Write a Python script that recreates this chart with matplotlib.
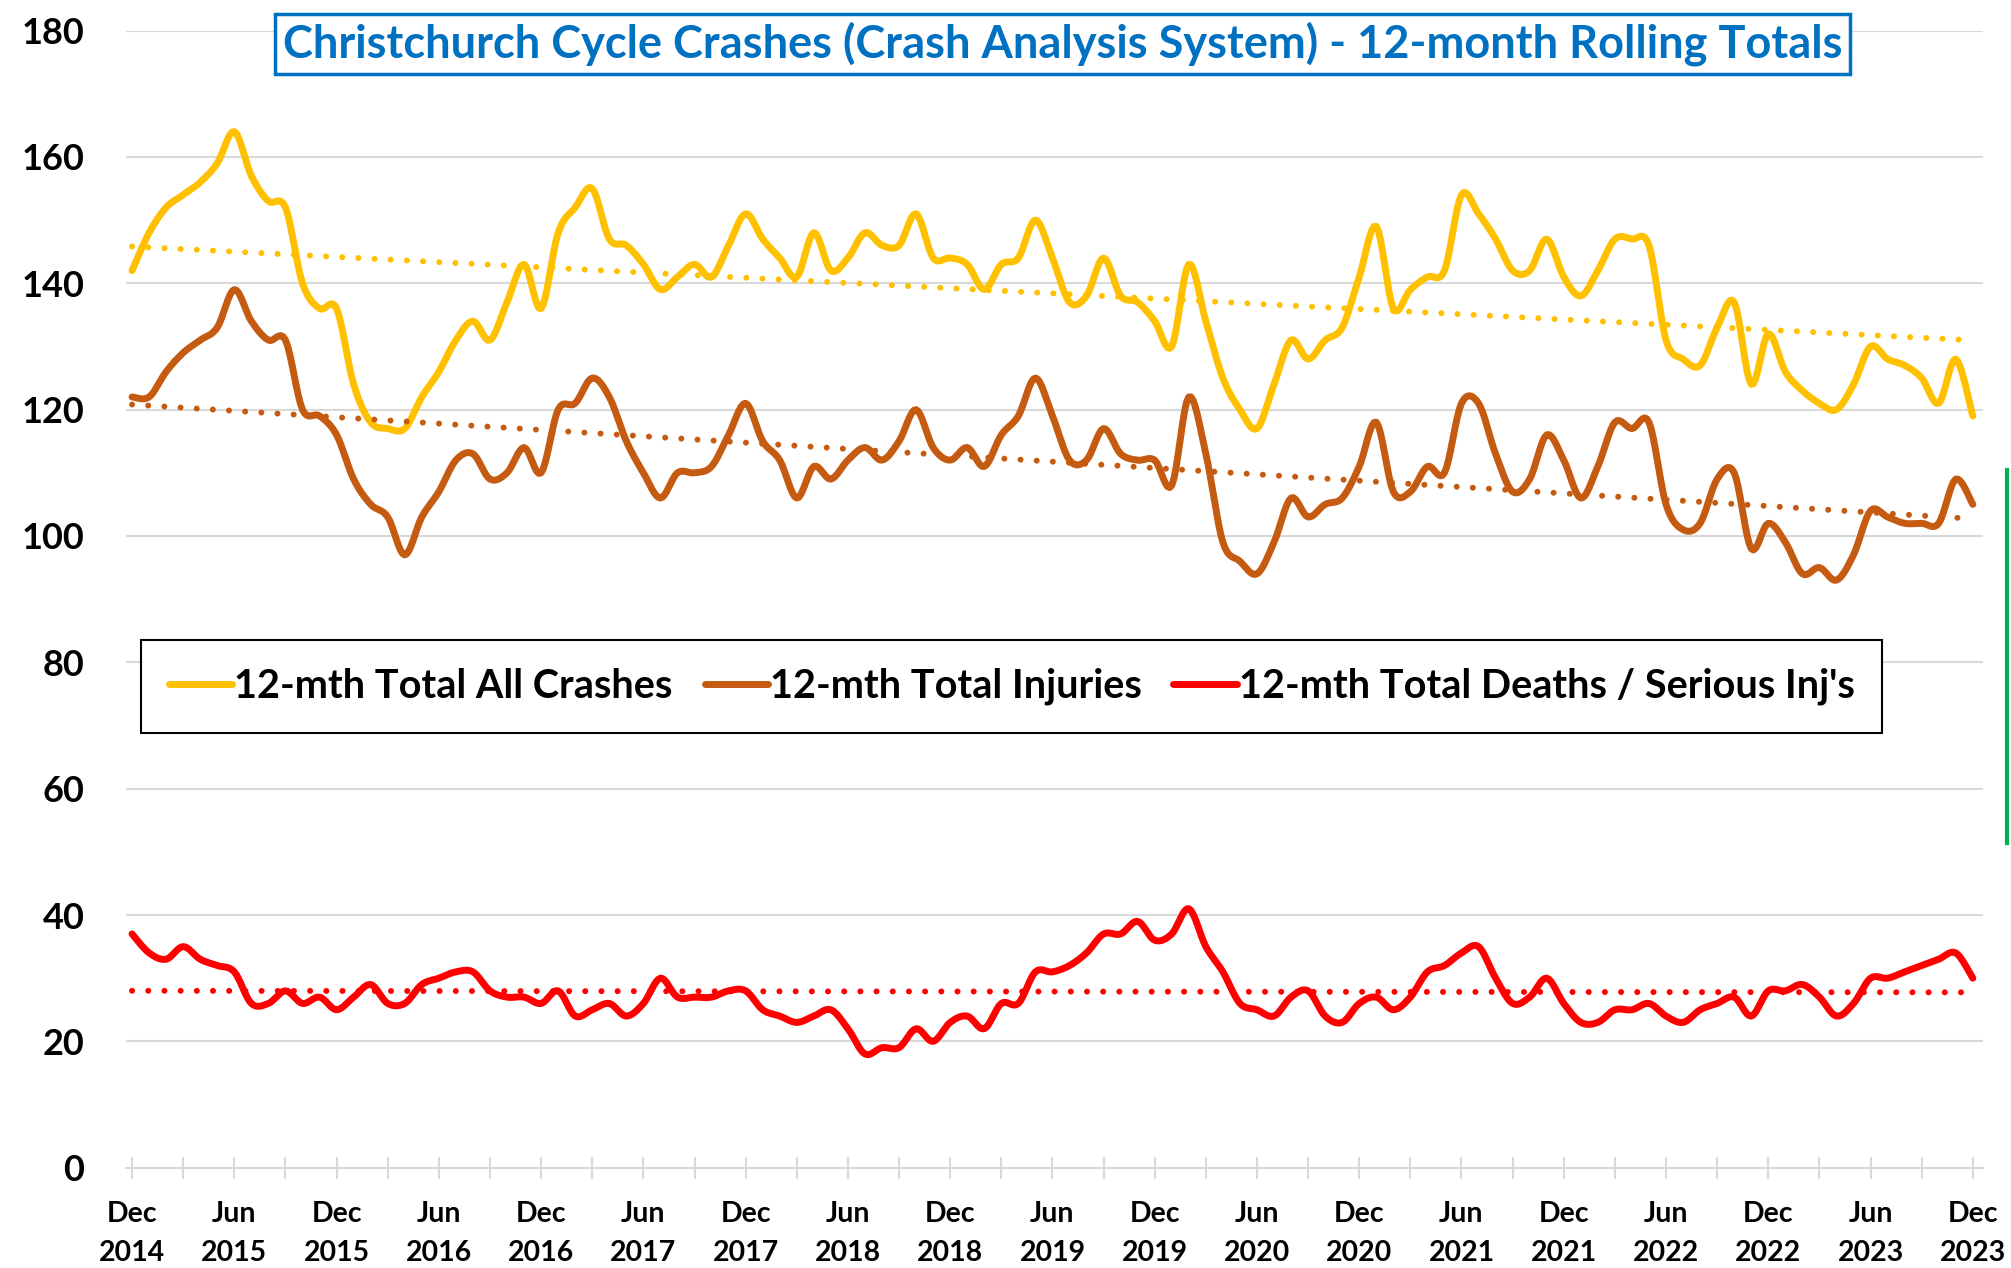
import numpy as np
import pandas as pd
import matplotlib
matplotlib.use("Agg")
import matplotlib.pyplot as plt
from matplotlib.lines import Line2D

plt.rcParams['font.family'] = ['Lato', 'DejaVu Sans']

# monthly 12-month rolling totals, Dec 2014 .. Dec 2023
months = pd.date_range('2014-12-01', periods=109, freq='MS')

all_crashes = [142, 148, 152, 154, 156, 159, 164, 157, 153, 152, 140, 136, 136, 124, 118, 117, 117, 122, 126, 131,
               134, 131, 137, 143, 136, 148, 152, 155, 147, 146, 143, 139, 141, 143, 141, 146, 151, 147, 144, 141,
               148, 142, 144, 148, 146, 146, 151, 144, 144, 143, 139, 143, 144, 150, 144, 137, 138, 144, 138, 137,
               134, 130, 143, 134, 125, 120, 117, 124, 131, 128, 131, 133, 141, 149, 136, 139, 141, 142, 154, 151,
               147, 142, 142, 147, 141, 138, 142, 147, 147, 146, 131, 128, 127, 133, 137, 124, 132, 126, 123, 121,
               120, 124, 130, 128, 127, 125, 121, 128, 119]

injuries = [122, 122, 126, 129, 131, 133, 139, 134, 131, 131, 120, 119, 116, 109, 105, 103, 97, 103, 107, 112,
            113, 109, 110, 114, 110, 120, 121, 125, 122, 115, 110, 106, 110, 110, 111, 116, 121, 115, 112, 106,
            111, 109, 112, 114, 112, 115, 120, 114, 112, 114, 111, 116, 119, 125, 119, 112, 112, 117, 113, 112,
            112, 108, 122, 113, 99, 96, 94, 99, 106, 103, 105, 106, 111, 118, 107, 107, 111, 110, 121, 121,
            113, 107, 109, 116, 112, 106, 111, 118, 117, 118, 105, 101, 102, 109, 110, 98, 102, 99, 94, 95,
            93, 97, 104, 103, 102, 102, 102, 109, 105]

deaths_serious = [37, 34, 33, 35, 33, 32, 31, 26, 26, 28, 26, 27, 25, 27, 29, 26, 26, 29, 30, 31,
                  31, 28, 27, 27, 26, 28, 24, 25, 26, 24, 26, 30, 27, 27, 27, 28, 28, 25, 24, 23,
                  24, 25, 22, 18, 19, 19, 22, 20, 23, 24, 22, 26, 26, 31, 31, 32, 34, 37, 37, 39,
                  36, 37, 41, 35, 31, 26, 25, 24, 27, 28, 24, 23, 26, 27, 25, 27, 31, 32, 34, 35,
                  30, 26, 27, 30, 26, 23, 23, 25, 25, 26, 24, 23, 25, 26, 27, 24, 28, 28, 29, 27,
                  24, 26, 30, 30, 31, 32, 33, 34, 30]

series_names = ['12-mth Total All Crashes', '12-mth Total Injuries', "12-mth Total Deaths / Serious Inj's"]
series_colors = ['#FFC000', '#C55A11', '#FF0000']
title = 'Christchurch Cycle Crashes (Crash Analysis System) - 12-month Rolling Totals'


def smooth_path(x, y, n=8):
    # Catmull-Rom curve through every point, like Excel's "smoothed line"
    x = np.asarray(x, float)
    y = np.asarray(y, float)
    px = np.concatenate([[x[0]], x, [x[-1]]])
    py = np.concatenate([[y[0]], y, [y[-1]]])
    t = np.linspace(0, 1, n, endpoint=False)
    xs, ys = [], []
    for k in range(1, len(px) - 2):
        for p, out in ((px, xs), (py, ys)):
            p0, p1, p2, p3 = p[k - 1], p[k], p[k + 1], p[k + 2]
            out.extend(0.5 * (2 * p1 + (-p0 + p2) * t + (2 * p0 - 5 * p1 + 4 * p2 - p3) * t ** 2
                              + (-p0 + 3 * p1 - 3 * p2 + p3) * t ** 3))
    xs.append(x[-1])
    ys.append(y[-1])
    return np.array(xs), np.array(ys)


fig = plt.figure(figsize=(20.11, 12.68), dpi=100)
ax = fig.add_axes([0.0627, 0.0791, 0.9234, 0.8968])

x = np.arange(len(months))
for y, name, col in zip([all_crashes, injuries, deaths_serious], series_names, series_colors):
    sx, sy = smooth_path(x, y)
    ax.plot(sx, sy, color=col, lw=5, solid_joinstyle='round', solid_capstyle='round', label=name, zorder=3)
    # linear trendline, drawn over the series like Excel does
    p = np.polyfit(x, y, 1)
    ax.plot(x, np.polyval(p, x), color=col, lw=4.3, linestyle=(0, (0.01, 2.7)),
            dash_capstyle='round', zorder=4)

ax.set_xlim(-0.35, 108.6)
ax.set_ylim(0, 180)
ax.set_yticks(range(0, 181, 20))
ax.yaxis.grid(True, color='#D9D9D9', lw=1.5)
ax.set_axisbelow(True)
for s in ['left', 'right', 'top']:
    ax.spines[s].set_visible(False)
ax.spines['bottom'].set_color('#D9D9D9')
ax.spines['bottom'].set_linewidth(1.5)
ax.tick_params(axis='y', length=0, pad=30, labelsize=26)
for lab in ax.get_yticklabels():
    lab.set_fontweight('bold')

major = x[::6]
ax.set_xticks(major)
ax.set_xticklabels([f"{months[i]:%b}\n{months[i]:%Y}" for i in major],
                   fontsize=20.5, fontweight='bold', linespacing=1.6)
ax.set_xticks(x[3::6], minor=True)
ax.tick_params(axis='x', which='both', direction='inout', length=16, width=1.5,
               color='#D9D9D9', pad=16)

leg = ax.legend(loc='center', bbox_to_anchor=(0.477, 0.423), ncol=3, frameon=True,
                edgecolor='black', fancybox=False, framealpha=1,
                prop=dict(family=['Lato', 'DejaVu Sans'], weight='bold', size=28.5),
                handlelength=1.6, handletextpad=0.05, columnspacing=0.8, borderpad=0.7)
leg.get_frame().set_linewidth(1.5)

fig.text(0.5284, 0.9656, title, ha='center', va='center', fontsize=32.5, fontweight='bold',
         color='#0070C0',
         bbox=dict(boxstyle='square,pad=0.17', fc='white', ec='#0070C0', lw=2.5))

fig.add_artist(Line2D([0.998, 0.998], [0.335, 0.629], color='#00B050', lw=3,
                      transform=fig.transFigure))

fig.savefig('out.png', dpi=100)
